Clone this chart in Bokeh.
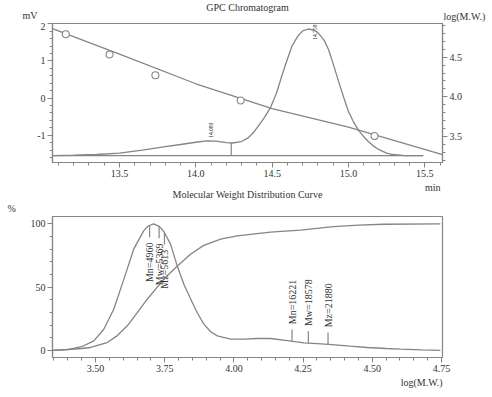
import numpy as np
from bokeh.plotting import figure
from bokeh.models import Range1d, LinearAxis, SingleIntervalTicker, PrintfTickFormatter
from bokeh.layouts import column, row
from bokeh.core.properties import value
from bokeh.embed import file_html
from bokeh.resources import INLINE

# ---------------- data: GPC chromatogram ----------------
rt_min = [13.061, 13.2, 13.35, 13.5, 13.65, 13.8, 13.9, 14.0, 14.07, 14.13, 14.2, 14.24,
          14.3, 14.34, 14.38, 14.41, 14.45, 14.49, 14.53, 14.565, 14.6, 14.63, 14.67,
          14.70, 14.74, 14.78, 14.80, 14.84, 14.87, 14.90, 14.935, 14.97, 15.0, 15.03,
          15.066, 15.10, 15.13, 15.16, 15.2, 15.25, 15.29, 15.37, 15.49]
signal_mv = [-1.55, -1.54, -1.52, -1.48, -1.40, -1.31, -1.25, -1.19, -1.15, -1.16, -1.20, -1.21,
             -1.17, -1.08, -0.92, -0.75, -0.52, -0.25, 0.15, 0.62, 1.05, 1.40, 1.68,
             1.81, 1.86, 1.82, 1.76, 1.56, 1.30, 0.92, 0.45, 0.0, -0.36, -0.62,
             -0.87, -1.04, -1.17, -1.28, -1.39, -1.48, -1.52, -1.55, -1.55]
baseline_rt = [13.061, 15.49]
baseline_mv = [-1.55, -1.55]
valley_rt = [14.232]
peak_rt = [14.080, 14.759]
peak_text = ["14.080", "14.759"]

cal_rt = [13.061, 13.5, 14.0, 14.5, 15.0, 15.616]
cal_logmw = [4.86, 4.54, 4.165, 3.85, 3.617, 3.27]
std_rt = [13.148, 13.435, 13.735, 14.294, 15.171]
std_logmw = [4.79, 4.534, 4.273, 3.954, 3.506]

# ---------------- data: molecular weight distribution ----------------
dist_logmw = [3.3447, 3.40, 3.45, 3.494, 3.53, 3.566, 3.602, 3.638, 3.674, 3.69, 3.71, 3.73,
              3.747, 3.771, 3.795, 3.82, 3.843, 3.867, 3.891, 3.915, 3.94, 3.988, 4.04,
              4.084, 4.132, 4.193, 4.253, 4.30, 4.343, 4.42, 4.482, 4.55, 4.602, 4.68, 4.746]
dist_pct = [0.1, 0.8, 3.0, 7.6, 16.8, 32.6, 56.0, 80.0, 94.5, 98.3, 100.0, 98.0,
            94.0, 84.0, 67.0, 52.0, 41.0, 30.0, 21.0, 15.0, 11.6, 9.0, 9.0,
            9.5, 9.5, 7.8, 6.0, 5.5, 4.8, 3.4, 2.4, 1.6, 1.1, 0.5, 0.2]
cum_logmw = [3.3447, 3.40, 3.45, 3.482, 3.542, 3.578, 3.615, 3.651, 3.687, 3.723, 3.759,
             3.795, 3.843, 3.891, 3.952, 4.012, 4.132, 4.24, 4.36, 4.45, 4.542, 4.746]
cum_pct = [0.2, 0.8, 1.6, 2.4, 6.3, 11.6, 19.5, 30.0, 40.5, 50.0, 59.0,
           66.5, 76.0, 83.0, 88.0, 90.5, 93.5, 95.0, 97.8, 99.0, 99.7, 100.0]

avg_names = ["Mn", "Mw", "Mz"]
peak1_avg = [4960, 5369, 5613]
peak2_avg = [16221, 18578, 21880]

# ---------------- styles / layout ----------------
LINE = "#858585"
TEXT = "#333333"
FONT = "Liberation Serif"
W = 492
BL, BR = 52, 50
HDR1 = 22                     # strip above the chromatogram
H1, BT1, BB1 = 159, 1, 19     # chromatogram figure
HDR2 = 33                     # strip between the two panels
H2, BT2, BB2 = 161, 2, 18     # distribution figure
FTR = 22                      # strip below the distribution panel


def no_align(p):
    try:
        p.frame_align = False
    except Exception:
        pass


def style_axis(ax, interval, fmt):
    ax.ticker = SingleIntervalTicker(interval=interval, num_minor_ticks=5)
    ax.formatter = PrintfTickFormatter(format=fmt)
    ax.axis_line_color = LINE
    ax.axis_line_width = 1.2
    ax.major_tick_line_color = LINE
    ax.major_tick_out = 5
    ax.major_tick_in = 0
    ax.minor_tick_line_color = LINE
    ax.minor_tick_out = 3
    ax.minor_tick_in = 0
    ax.major_label_text_font = FONT
    ax.major_label_text_font_size = "10px"
    ax.major_label_text_color = TEXT
    ax.major_label_standoff = 2


def make_fig(h, bt, bb, xr, yr):
    p = figure(width=W, height=h, x_range=xr, y_range=yr, output_backend="svg",
               toolbar_location=None, min_border_left=BL, min_border_right=BR,
               min_border_top=bt, min_border_bottom=bb)
    p.xgrid.visible = False
    p.ygrid.visible = False
    p.outline_line_color = LINE
    p.outline_line_width = 1.2
    p.background_fill_color = "white"
    p.border_fill_color = "white"
    return p


def text_strip(h, items):
    """A plain strip (pixel-scaled, y downward) that carries free-standing texts."""
    s = figure(width=W, height=h, x_range=Range1d(0, W), y_range=Range1d(h, 0),
               output_backend="svg", toolbar_location=None, x_axis_type=None,
               y_axis_type=None, min_border=0, min_border_left=0, min_border_right=0,
               min_border_top=0, min_border_bottom=0)
    no_align(s)
    s.xgrid.visible = False
    s.ygrid.visible = False
    s.outline_line_color = None
    s.background_fill_color = "white"
    s.border_fill_color = "white"
    for (px, py, txt, align) in items:
        s.text(x=[px], y=[py], text=[txt], text_font=value(FONT), text_font_size="10px",
               text_color=TEXT, text_align=align, text_baseline="middle")
    return s


# ================= strip above: titles =================
hdr1 = text_strip(HDR1, [(247, 7, "GPC Chromatogram", "center"),
                         (22, 15, "mV", "left"),
                         (443, 16, "log(M.W.)", "left")])

# ================= top: GPC chromatogram =================
xr1 = Range1d(13.061, 15.616)
yr1 = Range1d(-1.735, 2.008)
top = make_fig(H1, BT1, BB1, xr1, yr1)
top.extra_y_ranges = {"mw": Range1d(3.172, 4.925)}
style_axis(top.xaxis[0], 0.5, "%.1f")
style_axis(top.yaxis[0], 1, "%d")
rax = LinearAxis(y_range_name="mw")
style_axis(rax, 0.5, "%.1f")
top.add_layout(rax, "right")

top.line(baseline_rt, baseline_mv, line_color=LINE, line_width=1.3)
top.line(rt_min, signal_mv, line_color=LINE, line_width=1.3)
top.line(cal_rt, cal_logmw, y_range_name="mw", line_color=LINE, line_width=1.3)
top.scatter(std_rt, std_logmw, y_range_name="mw", marker="circle", size=7,
            fill_color="white", line_color=LINE, line_width=1.1)

vy = list(np.interp(valley_rt, rt_min, signal_mv))
top.segment(x0=valley_rt, y0=baseline_mv[:1] * len(valley_rt), x1=valley_rt, y1=vy,
            line_color=LINE, line_width=1.2)

pk_y = list(np.interp(peak_rt, rt_min, signal_mv))
top.text(x=[peak_rt[0]], y=[pk_y[0]], text=[peak_text[0]], angle=np.pi / 2,
         text_font=value(FONT), text_font_size="5.5px", text_color=TEXT,
         text_align="left", text_baseline="top", y_offset=-3, x_offset=1)
top.text(x=[peak_rt[1]], y=[yr1.end], text=[peak_text[1]], angle=np.pi / 2,
         text_font=value(FONT), text_font_size="5.5px", text_color=TEXT,
         text_align="right", text_baseline="top", y_offset=1, x_offset=1)

# ================= strip between =================
hdr2 = text_strip(HDR2, [(440, 6, "min", "right"),
                         (247, 13, "Molecular Weight Distribution Curve", "center"),
                         (7, 27, "%", "left")])

# ================= bottom: MW distribution =================
xr2 = Range1d(3.3447, 4.7536)
yr2 = Range1d(-5.5, 105.8)
bot = make_fig(H2, BT2, BB2, xr2, yr2)
style_axis(bot.xaxis[0], 0.25, "%.2f")
style_axis(bot.yaxis[0], 50, "%d")

bot.line(dist_logmw, dist_pct, line_color=LINE, line_width=1.3)
bot.line(cum_logmw, cum_pct, line_color=LINE, line_width=1.3)

TICK = 9.3
GAP = 13.5
for vals, direction in ((peak1_avg, -1), (peak2_avg, 1)):
    lx = list(np.log10(vals))
    cy = list(np.interp(lx, dist_logmw, dist_pct))
    bot.segment(x0=lx, y0=cy, x1=lx, y1=[c + direction * TICK for c in cy],
                line_color=LINE, line_width=1.2)
    labels = [f"{n}={v}" for n, v in zip(avg_names, vals)]
    bot.text(x=lx, y=[c + direction * GAP for c in cy], text=labels, angle=np.pi / 2,
             text_font=value(FONT), text_font_size="10px", text_color=TEXT,
             text_align="left" if direction > 0 else "right", text_baseline="middle")

# ================= strip below =================
ftr = text_strip(FTR, [(442, 7, "log(M.W.)", "right")])

layout = column(row(hdr1), row(top), row(hdr2), row(bot), row(ftr), spacing=0)
open("out.html", "w").write(file_html(layout, INLINE))
